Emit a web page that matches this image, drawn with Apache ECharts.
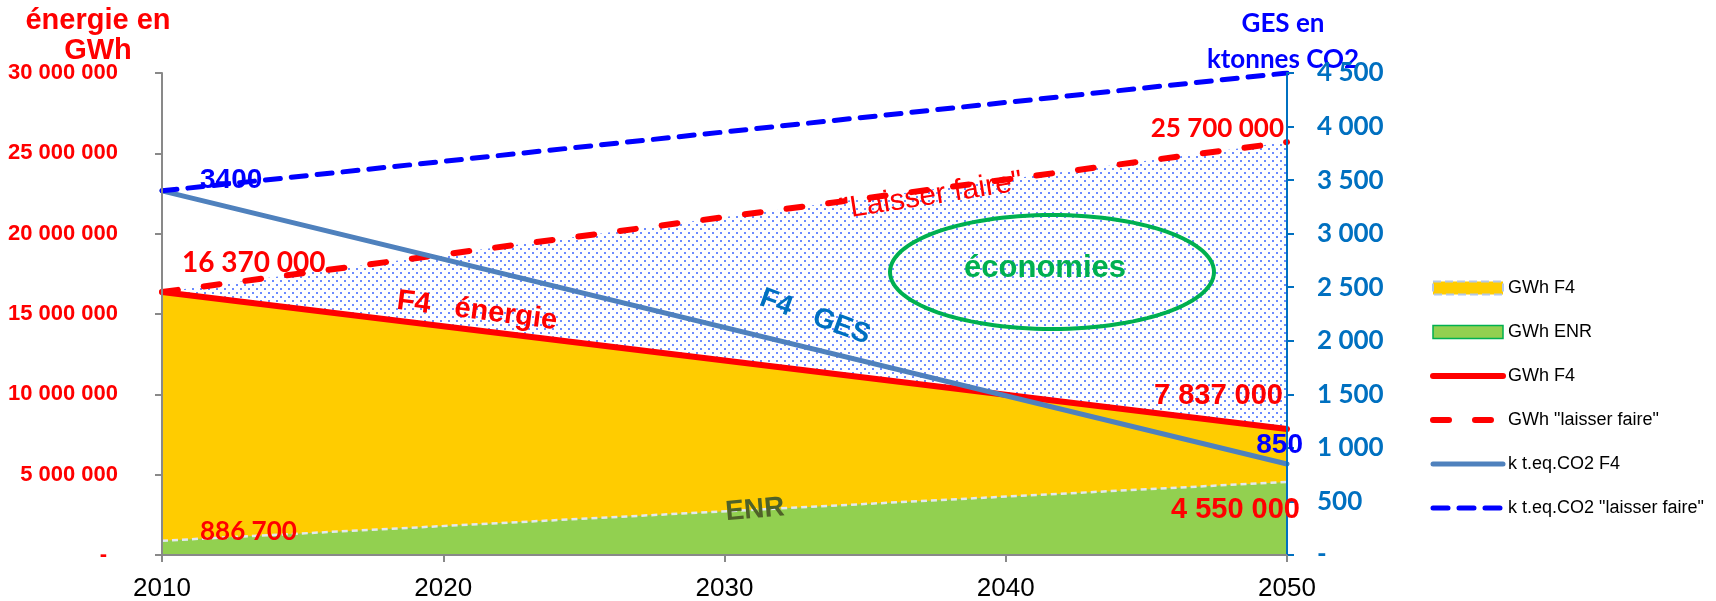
<!DOCTYPE html>
<html>
<head>
<meta charset="utf-8">
<script src="https://cdn.jsdelivr.net/npm/echarts@6/dist/echarts.min.js"></script>
<style>
  html, body { margin: 0; padding: 0; background: #fff; }
  #chart { width: 1716px; height: 601px; }
</style>
</head>
<body>
<div id="chart"></div>
<script>
// Years with data (straight trajectories between start and end)
const years = [2010, 2050];
const yearTicks = [2010, 2020, 2030, 2040, 2050];

// Energy in GWh
const gwhF4 = [16370000, 7837000];
const gwhEnr = [886700, 4550000];
const gwhLaisserFaire = [16370000, 25700000];

// Greenhouse gases in ktonnes CO2
const co2F4 = [3400, 850];
const co2LaisserFaire = [3400, 4500];

// Axis ticks
const energyTicks = [0, 5000000, 10000000, 15000000, 20000000, 25000000, 30000000];
const co2Ticks = [0, 500, 1000, 1500, 2000, 2500, 3000, 3500, 4000, 4500];

const ARIAL = "'Liberation Sans', Arial, sans-serif";
const CALIBRI = "Lato, 'Open Sans', sans-serif";

function pairs(xs, ys) { return xs.map((x, i) => [x, ys[i]]); }
function spaced(v) {
  return v === 0 ? '-' : String(v).replace(/\B(?=(\d{3})+(?!\d))/g, ' ');
}

// Dotted fill for the savings zone
function dotPattern() {
  const c = document.createElement('canvas');
  c.width = 8; c.height = 8;
  const ctx = c.getContext('2d');
  ctx.globalAlpha = 0.75;
  ctx.fillStyle = '#3a64ff';
  ctx.fillRect(0, 0, 2, 2);
  ctx.fillRect(4, 4, 2, 2);
  return c;
}

const chart = echarts.init(document.getElementById('chart'));

chart.setOption({
  animation: false,
  backgroundColor: '#fff',
  grid: { left: 162, right: 429, top: 73, bottom: 46, outerBoundsMode: 'none', containLabel: false },
  xAxis: {
    type: 'value',
    min: yearTicks[0],
    max: yearTicks[yearTicks.length - 1],
    interval: yearTicks[1] - yearTicks[0],
    splitLine: { show: false },
    axisLine: { show: true, onZero: false, lineStyle: { color: '#898989', width: 2 } },
    axisTick: { show: true, length: 7, lineStyle: { color: '#898989', width: 2 } },
    axisLabel: {
      color: '#000', fontSize: 26, fontFamily: ARIAL, margin: 21,
      showMinLabel: true, showMaxLabel: true,
      formatter: v => String(v)
    },
    z: 7
  },
  yAxis: [
    {
      type: 'value', position: 'left',
      min: energyTicks[0], max: energyTicks[energyTicks.length - 1],
      interval: energyTicks[1] - energyTicks[0],
      splitLine: { show: false },
      axisLine: { show: true, lineStyle: { color: '#898989', width: 2 } },
      axisTick: { show: true, length: 7, lineStyle: { color: '#898989', width: 2 } },
      axisLabel: {
        color: '#FF0000', fontWeight: 'bold', fontSize: 22, fontFamily: ARIAL, margin: 44,
        formatter: v => v === 0 ? '{d|-}' : spaced(v),
        rich: { d: { color: '#FF0000', fontWeight: 'bold', fontSize: 22, fontFamily: ARIAL, padding: [0, 11, 0, 0] } }
      },
      z: 7
    },
    {
      type: 'value', position: 'right',
      min: co2Ticks[0], max: co2Ticks[co2Ticks.length - 1],
      interval: co2Ticks[1] - co2Ticks[0],
      splitLine: { show: false },
      axisLine: { show: true, lineStyle: { color: '#0070C0', width: 2 } },
      axisTick: { show: true, length: 7, lineStyle: { color: '#0070C0', width: 2 } },
      axisLabel: {
        color: '#0070C0', fontWeight: 'bold', fontSize: 26, fontFamily: CALIBRI, margin: 30,
        formatter: spaced
      },
      z: 7
    }
  ],
  legend: {
    orient: 'vertical',
    left: 1425, top: 274,
    itemWidth: 70, itemHeight: 13, itemGap: 26,
    selectedMode: false,
    textStyle: { color: '#000', fontSize: 18, fontFamily: ARIAL },
    data: [
      { name: 'GWh F4', icon: 'rect', itemStyle: { color: '#FFCC00', borderColor: '#B4C7E7', borderWidth: 2, borderType: 'dashed' } },
      { name: 'GWh ENR', icon: 'rect', itemStyle: { color: '#92D050', borderColor: '#00B050', borderWidth: 1.5 } },
      { name: 'GWh F4 ', itemStyle: { opacity: 0 }, lineStyle: { width: 6 } },
      { name: 'GWh "laisser faire"', itemStyle: { opacity: 0 }, lineStyle: { width: 6 } },
      { name: 'k t.eq.CO2 F4', itemStyle: { opacity: 0 }, lineStyle: { width: 5 } },
      { name: 'k t.eq.CO2 "laisser faire"', itemStyle: { opacity: 0 }, lineStyle: { width: 5 } }
    ]
  },
  series: [
    {
      name: 'économies', type: 'line', silent: true, symbol: 'none',
      data: pairs(years, gwhLaisserFaire),
      lineStyle: { width: 0 },
      areaStyle: { color: { image: dotPattern(), repeat: 'repeat' }, opacity: 1 },
      z: 1
    },
    {
      name: 'GWh F4', type: 'line', silent: true, symbol: 'none',
      data: pairs(years, gwhF4),
      itemStyle: { color: '#FFCC00' },
      lineStyle: { width: 0 },
      areaStyle: { color: '#FFCC00', opacity: 1 },
      z: 2
    },
    {
      name: 'GWh ENR', type: 'line', silent: true, symbol: 'none',
      data: pairs(years, gwhEnr),
      itemStyle: { color: '#92D050' },
      lineStyle: { color: '#E2E8F0', width: 2.5, type: [6, 4] },
      areaStyle: { color: '#92D050', opacity: 1 },
      z: 3
    },
    {
      name: 'GWh F4 ', type: 'line', silent: true, symbol: 'none',
      data: pairs(years, gwhF4),
      itemStyle: { color: '#FF0000' },
      lineStyle: { color: '#FF0000', width: 6, cap: 'round' },
      z: 5
    },
    {
      name: 'GWh "laisser faire"', type: 'line', silent: true, symbol: 'none',
      data: pairs(years, gwhLaisserFaire),
      itemStyle: { color: '#FF0000' },
      lineStyle: { color: '#FF0000', width: 6, type: [16, 26], cap: 'round' },
      z: 5
    },
    {
      name: 'k t.eq.CO2 F4', type: 'line', silent: true, symbol: 'none', yAxisIndex: 1,
      data: pairs(years, co2F4),
      itemStyle: { color: '#4F81BD' },
      lineStyle: { color: '#4F81BD', width: 5, cap: 'round' },
      z: 6
    },
    {
      name: 'k t.eq.CO2 "laisser faire"', type: 'line', silent: true, symbol: 'none', yAxisIndex: 1,
      data: pairs(years, co2LaisserFaire),
      itemStyle: { color: '#0000FF' },
      lineStyle: { color: '#0000FF', width: 5, type: [15, 11], cap: 'round' },
      z: 6
    }
  ]
});

// Annotations anchored to the plotted values
const last = years.length - 1;
const onEnergy = (x, y) => chart.convertToPixel({ xAxisIndex: 0, yAxisIndex: 0 }, [x, y]);
const onCo2 = (x, y) => chart.convertToPixel({ xAxisIndex: 0, yAxisIndex: 1 }, [x, y]);

function label(p, dx, dy, text, font, fill, align, z) {
  return {
    type: 'text', x: p[0] + dx, y: p[1] + dy, z: z || 4,
    style: { text, font, fill, align: align || 'left', verticalAlign: 'middle' }
  };
}
function note(x, y, rotDeg, text, font, fill) {
  return {
    type: 'text', x, y, rotation: rotDeg * Math.PI / 180, z: 4,
    style: { text, font, fill, align: 'center', verticalAlign: 'middle' }
  };
}

// Ellipse around the savings label
const ell = { cx: 1052, cy: 272, rx: 162, ry: 57 };
const ellPts = [];
for (let i = 0; i < 120; i++) {
  const a = (i / 120) * Math.PI * 2;
  ellPts.push([ell.cx + ell.rx * Math.cos(a), ell.cy + ell.ry * Math.sin(a)]);
}

chart.setOption({
  graphic: [
    // axis titles
    note(98, 21, 0, 'énergie en', `bold 29px ${ARIAL}`, '#FF0000'),
    note(98, 51, 0, 'GWh', `bold 29px ${ARIAL}`, '#FF0000'),
    note(1283, 24, 0, 'GES en', `bold 26px ${CALIBRI}`, '#0000FF'),
    note(1283, 60, 0, 'ktonnes CO2', `bold 26px ${CALIBRI}`, '#0000FF'),

    // value call-outs
    label(onEnergy(years[0], gwhLaisserFaire[0]), 20, -29, spaced(gwhLaisserFaire[0]), `bold 28px ${CALIBRI}`, '#FF0000'),
    label(onEnergy(years[0], gwhEnr[0]), 38, -9, spaced(gwhEnr[0]), `bold 26px ${CALIBRI}`, '#FF0000'),
    label(onEnergy(years[last], gwhLaisserFaire[last]), -3, -13, spaced(gwhLaisserFaire[last]), `bold 26px ${CALIBRI}`, '#FF0000', 'right'),
    label(onEnergy(years[last], gwhF4[last]), -4, -33, spaced(gwhF4[last]), `bold 29px ${ARIAL}`, '#FF0000', 'right'),
    label(onEnergy(years[last], gwhEnr[last]), 13, 28, spaced(gwhEnr[last]), `bold 29px ${ARIAL}`, '#FF0000', 'right', 8),
    label(onCo2(years[last], co2F4[last]), 16, -19, String(co2F4[last]), `bold 28px ${ARIAL}`, '#0000FF', 'right', 8),
    label(onCo2(years[0], co2F4[0]), 38, -11, String(co2F4[0]), `bold 28px ${ARIAL}`, '#0000FF'),

    // curve names
    note(477, 311, -7.3, 'F4   énergie', `bold 29px ${ARIAL}`, '#FF0000'),
    note(815, 317, -20, 'F4   GES', `bold 28px ${ARIAL}`, '#0070C0'),
    note(931, 196, 9, '"Laisser faire"', `30px ${ARIAL}`, '#FF0000'),
    note(755, 510, 5, 'ENR', `bold 28px ${ARIAL}`, '#4F6228'),

    // savings zone
    { type: 'polygon', z: 4, shape: { points: ellPts }, style: { fill: 'rgba(0,0,0,0)', stroke: '#00B050', lineWidth: 4 } },
    note(1045, 268, 0, 'économies', `bold 31px ${ARIAL}`, '#00B050')
  ]
});
</script>
</body>
</html>
